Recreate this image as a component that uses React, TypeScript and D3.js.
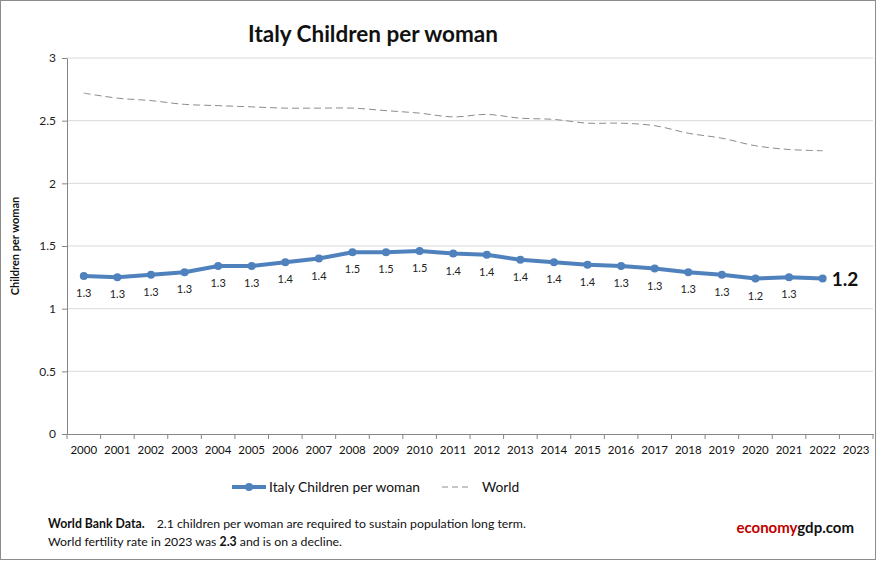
import { useEffect, useRef } from 'react';
import * as d3 from 'd3';

const years = [
  '2000', '2001', '2002', '2003', '2004', '2005', '2006', '2007', '2008', '2009', '2010', '2011',
  '2012', '2013', '2014', '2015', '2016', '2017', '2018', '2019', '2020', '2021', '2022', '2023',
];

const italy = [
  1.26, 1.25, 1.27, 1.29, 1.34, 1.34, 1.37, 1.40, 1.45, 1.45, 1.46, 1.44,
  1.43, 1.39, 1.37, 1.35, 1.34, 1.32, 1.29, 1.27, 1.24, 1.25, 1.24,
];

const italyLabels = [
  '1.3', '1.3', '1.3', '1.3', '1.3', '1.3', '1.4', '1.4', '1.5', '1.5', '1.5', '1.4',
  '1.4', '1.4', '1.4', '1.4', '1.3', '1.3', '1.3', '1.3', '1.2', '1.3',
];

const world = [
  2.72, 2.68, 2.66, 2.63, 2.62, 2.61, 2.60, 2.60, 2.60, 2.58, 2.56, 2.53,
  2.55, 2.52, 2.51, 2.48, 2.48, 2.46, 2.40, 2.36, 2.30, 2.27, 2.26,
];

const yTicks = [0, 0.5, 1, 1.5, 2, 2.5, 3];

const W = 878;
const H = 561;
const PLOT = { left: 67, right: 873, top: 58, bottom: 434 };
const FONT = 'Lato, "Open Sans", sans-serif';
const BLUE = '#4f81bd';

export default function App() {
  const ref = useRef<SVGSVGElement | null>(null);

  useEffect(() => {
    if (!ref.current) return;
    const svg = d3.select(ref.current);
    svg.selectAll('*').remove();

    svg.append('rect')
      .attr('x', 0.5).attr('y', 0.5)
      .attr('width', W - 3).attr('height', H - 2)
      .attr('fill', '#fff').attr('stroke', '#8c8c8c');

    const x = d3.scaleBand<string>().domain(years).range([PLOT.left, PLOT.right]);
    const cx = (i: number) => (x(years[i]) ?? 0) + x.bandwidth() / 2;
    const y = d3.scaleLinear().domain([0, 3]).range([PLOT.bottom, PLOT.top]);

    // gridlines
    svg.append('g')
      .selectAll('line')
      .data(yTicks.filter((t) => t > 0))
      .join('line')
      .attr('x1', PLOT.left).attr('x2', PLOT.right)
      .attr('y1', (d) => y(d)).attr('y2', (d) => y(d))
      .attr('stroke', '#d9d9d9');

    // y axis
    const yAxis = svg.append('g')
      .attr('transform', `translate(${PLOT.left},0)`)
      .call(d3.axisLeft(y).tickValues(yTicks).tickSize(5).tickSizeOuter(0).tickFormat((d) => String(d)));
    yAxis.select('.domain').attr('stroke', '#868686');
    yAxis.selectAll('.tick line').attr('stroke', '#868686');
    yAxis.selectAll('.tick text')
      .attr('x', -11)
      .attr('font-family', FONT).attr('font-size', 12).attr('fill', '#222');

    // x axis
    const xAxis = svg.append('g')
      .attr('transform', `translate(0,${PLOT.bottom})`)
      .call(d3.axisBottom(x).tickSize(0).tickSizeOuter(0));
    xAxis.select('.domain').attr('stroke', '#868686');
    xAxis.selectAll('.tick text')
      .attr('dy', '1.5em')
      .attr('font-family', FONT).attr('font-size', 11.5).attr('fill', '#111');
    svg.append('g')
      .selectAll('line')
      .data(years.map((yr) => x(yr) ?? 0).concat([PLOT.right]))
      .join('line')
      .attr('x1', (d) => d).attr('x2', (d) => d)
      .attr('y1', PLOT.bottom).attr('y2', PLOT.bottom + 5)
      .attr('stroke', '#868686');

    // world
    const worldLine = d3.line<number>()
      .x((_, i) => cx(i))
      .y((d) => y(d))
      .curve(d3.curveCatmullRom.alpha(0.5));
    svg.append('path')
      .datum(world)
      .attr('fill', 'none')
      .attr('stroke', '#8c8c8c')
      .attr('stroke-width', 1)
      .attr('stroke-dasharray', '7 4')
      .attr('d', worldLine);

    // italy
    const italyLine = d3.line<number>()
      .x((_, i) => cx(i))
      .y((d) => y(d));
    svg.append('path')
      .datum(italy)
      .attr('fill', 'none')
      .attr('stroke', BLUE)
      .attr('stroke-width', 4)
      .attr('stroke-linejoin', 'round')
      .attr('d', italyLine);
    svg.append('g')
      .selectAll('circle')
      .data(italy)
      .join('circle')
      .attr('cx', (_, i) => cx(i))
      .attr('cy', (d) => y(d))
      .attr('r', 4)
      .attr('fill', BLUE);

    svg.append('g')
      .selectAll('text')
      .data(italyLabels)
      .join('text')
      .attr('x', (_, i) => cx(i))
      .attr('y', (_, i) => y(italy[i]) + 21)
      .attr('text-anchor', 'middle')
      .attr('font-family', FONT).attr('font-size', 11).attr('fill', '#222')
      .text((d) => d);

    const last = italy.length - 1;
    svg.append('text')
      .attr('x', cx(last) + 9)
      .attr('y', y(italy[last]) + 7)
      .attr('font-family', FONT).attr('font-size', 19).attr('font-weight', 'bold').attr('fill', '#111')
      .text('1.2');

    // title
    svg.append('text')
      .attr('x', 373).attr('y', 42)
      .attr('text-anchor', 'middle')
      .attr('font-family', FONT).attr('font-size', 22.5).attr('font-weight', 'bold').attr('fill', '#111')
      .text('Italy Children per woman');

    // y axis title
    svg.append('text')
      .attr('transform', `translate(19,246) rotate(-90)`)
      .attr('text-anchor', 'middle')
      .attr('font-family', FONT).attr('font-size', 11).attr('font-weight', 'bold').attr('fill', '#111')
      .text('Children per woman');

    // legend
    const lg = svg.append('g').attr('transform', 'translate(232,487)');
    lg.append('line').attr('x1', 0).attr('x2', 34).attr('y1', 0).attr('y2', 0)
      .attr('stroke', BLUE).attr('stroke-width', 4);
    lg.append('circle').attr('cx', 17).attr('cy', 0).attr('r', 4).attr('fill', BLUE);
    lg.append('text').attr('x', 37).attr('y', 5)
      .attr('font-family', FONT).attr('font-size', 13.8).attr('fill', '#111')
      .text('Italy Children per woman');
    lg.append('line').attr('x1', 210).attr('x2', 240).attr('y1', 0).attr('y2', 0)
      .attr('stroke', '#8c8c8c').attr('stroke-dasharray', '6 4');
    lg.append('text').attr('x', 250).attr('y', 5)
      .attr('font-family', FONT).attr('font-size', 13.8).attr('fill', '#111')
      .text('World');

    // footer
    const f1 = svg.append('text').attr('x', 48).attr('y', 528)
      .attr('font-family', FONT).attr('font-size', 12.3).attr('fill', '#111');
    f1.append('tspan').attr('font-weight', 'bold').text('World Bank Data.');
    f1.append('tspan').attr('dx', 12).text('2.1 children per woman are required to sustain population long term.');
    const f2 = svg.append('text').attr('x', 48).attr('y', 546)
      .attr('font-family', FONT).attr('font-size', 12.3).attr('fill', '#111');
    f2.append('tspan').text('World fertility rate in 2023 was ');
    f2.append('tspan').attr('font-weight', 'bold').text('2.3');
    f2.append('tspan').text(' and is on a decline.');

    const brand = svg.append('text').attr('x', 854).attr('y', 533)
      .attr('text-anchor', 'end')
      .attr('font-family', FONT).attr('font-size', 15).attr('font-weight', 'bold');
    brand.append('tspan').attr('fill', '#c00000').text('economy');
    brand.append('tspan').attr('fill', '#111').text('gdp.com');
  }, []);

  return (
    <svg
      ref={ref}
      width={W}
      height={H}
      viewBox={`0 0 ${W} ${H}`}
      style={{ display: 'block', position: 'absolute', left: 0, top: 0 }}
    />
  );
}
